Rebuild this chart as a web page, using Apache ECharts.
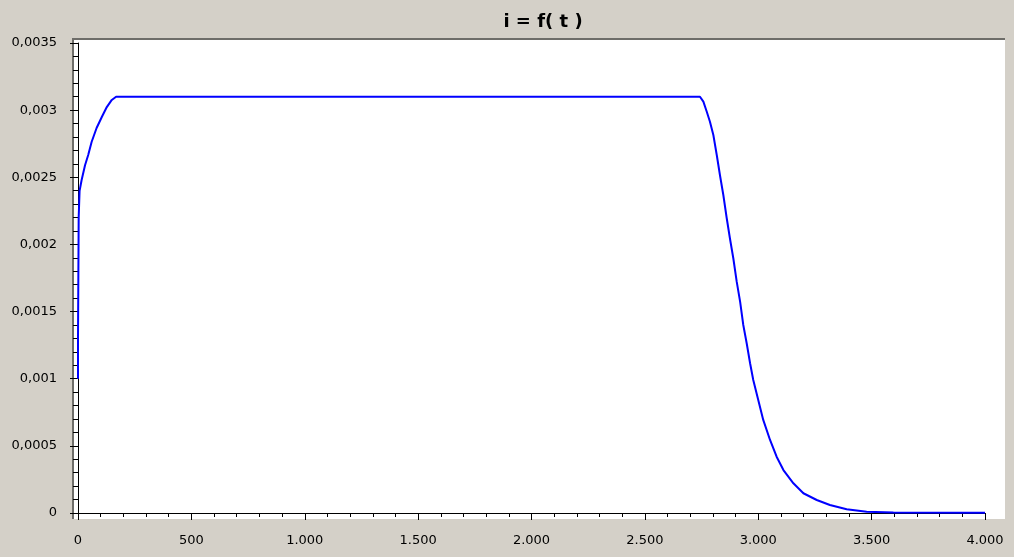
<!DOCTYPE html>
<html>
<head>
<meta charset="utf-8">
<script src="https://cdn.jsdelivr.net/npm/echarts@6/dist/echarts.min.js"></script>
<style>
  html, body { margin: 0; padding: 0; background: #d4d0c8; }
  #chart { width: 1014px; height: 557px; }
</style>
</head>
<body>
<div id="chart"></div>
<script>
// time t (x) and current i (y)
var tValues = [0, 0, 3, 3, 7, 7, 16, 31, 45, 60, 82, 105, 127, 149, 168,
  2743, 2758, 2773, 2787, 2802, 2817, 2831, 2846, 2861, 2875, 2890, 2905, 2920, 2934,
  2949, 2964, 2978, 3000, 3022, 3052, 3081, 3111, 3155, 3199, 3258, 3316, 3390, 3478, 3596, 4000];
var iValues = [0.001, 0.0013, 0.0013, 0.0022, 0.0022, 0.0024, 0.00248, 0.00259, 0.002666, 0.002763,
  0.002867, 0.002949, 0.003023, 0.003076, 0.0031,
  0.0031, 0.003063, 0.002988, 0.002914, 0.002815, 0.002666, 0.002517, 0.002368, 0.002195, 0.002046,
  0.001897, 0.001723, 0.001574, 0.0014,
  0.001264, 0.001115, 0.00099, 0.000841, 0.000693, 0.000544, 0.000419, 0.00032, 0.000221, 0.000147,
  0.0000968, 0.0000596, 0.0000273, 0.0000099, 0.000003, 0.000002];

var yTickLabels = ["0", "0,0005", "0,001", "0,0015", "0,002", "0,0025", "0,003", "0,0035"];
var xTickLabels = ["0", "500", "1.000", "1.500", "2.000", "2.500", "3.000", "3.500", "4.000"];

var chart = echarts.init(document.getElementById("chart"));

var points = tValues.map(function (t, k) { return [t, iValues[k]]; });

var labelFont = { color: "#000", fontFamily: "DejaVu Sans", fontSize: 13 };

var option = {
  animation: false,
  backgroundColor: "#d4d0c8",
  title: {
    text: "i = f( t )",
    left: 538,
    top: 8,
    textAlign: "center",
    textStyle: { fontFamily: "DejaVu Sans", fontWeight: "bold", fontSize: 18, color: "#000" }
  },
  graphic: [
    {
      type: "polyline", silent: true,
      shape: { points: [[73, 519], [73, 39], [1005, 39]] },
      style: { stroke: "#6e6d69", lineWidth: 2, fill: null }
    }
  ],
  grid: [
    // white plot box (slightly larger than the data area)
    { left: 72, top: 38, width: 933, height: 481, show: true, backgroundColor: "#ffffff", borderWidth: 0 },
    // data area
    { left: 78, right: 29, top: 43, bottom: 44 }
  ],
  xAxis: [
    { gridIndex: 0, type: "value", show: false },
    {
      gridIndex: 1,
      type: "value",
      min: 0, max: 4000, interval: 500,
      offset: 10,
      axisLine: { show: true, lineStyle: { color: "#000", width: 1 } },
      axisTick: { show: true, inside: false, length: 7, lineStyle: { color: "#000" } },
      minorTick: { show: true, splitNumber: 5, length: 4, lineStyle: { color: "#000" } },
      splitLine: { show: false },
      axisLabel: Object.assign({
        margin: 11,
        formatter: function (v) { return xTickLabels[Math.round(v / 500)]; }
      }, labelFont)
    }
  ],
  yAxis: [
    { gridIndex: 0, type: "value", show: false },
    {
      gridIndex: 1,
      type: "value",
      min: 0, max: 0.0035, interval: 0.0005,
      offset: 8,
      axisLine: { show: true, lineStyle: { color: "#000", width: 1 } },
      axisTick: { show: true, inside: false, length: 8, lineStyle: { color: "#000" } },
      minorTick: { show: true, splitNumber: 5, length: 5, lineStyle: { color: "#000" } },
      splitLine: { show: false },
      axisLabel: Object.assign({
        margin: 13,
        formatter: function (v) { return yTickLabels[Math.round(v / 0.0005)]; }
      }, labelFont)
    }
  ],
  series: [
    {
      type: "line",
      xAxisIndex: 1,
      yAxisIndex: 1,
      data: points,
      showSymbol: false,
      lineStyle: { color: "#0000ff", width: 2 },
      z: 5
    }
  ]
};

chart.setOption(option);
</script>
</body>
</html>
